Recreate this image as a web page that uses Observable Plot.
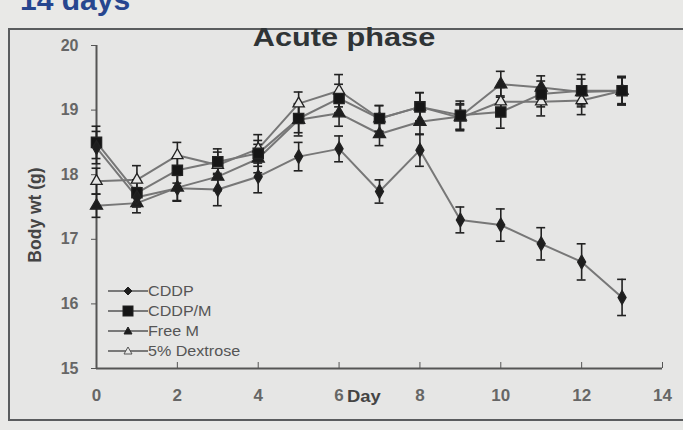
<!DOCTYPE html>
<html>
<head>
<meta charset="utf-8">
<script src="https://cdn.jsdelivr.net/npm/d3@7"></script>
<script src="https://cdn.jsdelivr.net/npm/@observablehq/plot@0.6"></script>
<style>
  html, body { margin: 0; padding: 0; background: #e9e9e7; }
  #wrap { position: relative; width: 683px; height: 430px; overflow: hidden; background: #e9e9e7; font-family: "Liberation Sans", Arial, sans-serif; }
  #frame { position: absolute; left: 8px; top: 28px; width: 700px; height: 389px; border: 2px solid #5a5c5e; border-right: none; background: #e6e6e5; }
  #top { position: absolute; left: 20px; top: -17px; font-size: 30px; font-weight: bold; color: #27468f; }
  #title { position: absolute; left: 344px; top: 22px; transform: translateX(-50%) scaleX(1.18); font-size: 26px; font-weight: bold; color: #2f3436; white-space: nowrap; }
  #chart { position: absolute; left: 0; top: 0; }
  #ylab { position: absolute; left: 35px; top: 215px; transform: translate(-50%, -50%) rotate(-90deg); font-size: 17.5px; font-weight: bold; color: #444; white-space: nowrap; }
  #xlab { position: absolute; left: 347px; top: 388px; font-size: 16px; font-weight: bold; color: #444; transform: scaleX(1.15); transform-origin: left center; }
  #legend { position: absolute; left: 108px; top: 281px; }
  .li { display: flex; align-items: center; height: 20px; font-size: 14px; color: #555; }
  .li svg { margin-right: 0px; }
  .li span { display: inline-block; transform: scaleX(1.15); transform-origin: left center; }
</style>
</head>
<body>
<div id="wrap">
  <div id="top">14 days</div>
  <div id="frame"></div>
  <div id="chart"></div>
  <div id="title">Acute phase</div>
  <div id="ylab">Body wt (g)</div>
  <div id="xlab">Day</div>
  <div id="legend"></div>
</div>
<script>
const days = [0, 1, 2, 3, 4, 5, 6, 7, 8, 9, 10, 11, 12, 13];
const seriesNames = ["CDDP", "CDDP/M", "Free M", "5% Dextrose"];
const cddp      = [18.42, 17.65, 17.79, 17.77, 17.97, 18.28, 18.40, 17.74, 18.38, 17.30, 17.22, 16.93, 16.65, 16.10];
const cddpErr   = [0.25, 0.15, 0.20, 0.25, 0.25, 0.22, 0.20, 0.18, 0.25, 0.20, 0.25, 0.25, 0.28, 0.28];
const cddpm     = [18.50, 17.72, 18.07, 18.20, 18.33, 18.87, 19.18, 18.87, 19.05, 18.92, 18.97, 19.25, 19.30, 19.30];
const cddpmErr  = [0.25, 0.20, 0.20, 0.20, 0.20, 0.22, 0.22, 0.20, 0.22, 0.22, 0.25, 0.20, 0.25, 0.22];
const freeM     = [17.52, 17.56, 17.80, 17.97, 18.25, 18.85, 18.95, 18.63, 18.82, 18.90, 19.40, 19.35, 19.28, 19.30];
const freeMErr  = [0.18, 0.15, 0.20, 0.22, 0.22, 0.25, 0.20, 0.18, 0.20, 0.20, 0.20, 0.18, 0.20, 0.20];
const dextrose  = [17.90, 17.92, 18.30, 18.15, 18.40, 19.10, 19.30, 18.87, 19.05, 18.88, 19.13, 19.13, 19.15, 19.30];
const dextroseErr = [0.20, 0.22, 0.20, 0.20, 0.22, 0.18, 0.25, 0.20, 0.22, 0.20, 0.22, 0.22, 0.22, 0.22];
const xTicks = [0, 2, 4, 6, 8, 10, 12, 14];
const yTicks = [15, 16, 17, 18, 19, 20];

const styles = {
  "CDDP":        {symbol: "diamond", fill: "#1e1e1e", r: 4.2},
  "CDDP/M":      {symbol: "square",  fill: "#161616", r: 5.8},
  "Free M":      {symbol: "triangle", fill: "#1e1e1e", r: 4.5},
  "5% Dextrose": {symbol: "triangle", fill: "#e6e6e5", r: 4.2}
};
const vals = [cddp, cddpm, freeM, dextrose];
const errs = [cddpErr, cddpmErr, freeMErr, dextroseErr];
const rows = [];
seriesNames.forEach((s, i) => days.forEach((d, j) => rows.push({series: s, day: d, wt: vals[i][j], err: errs[i][j]})));
const cap = 0.11;
const lineColor = "#777";
const markColor = "#222";

const marks = [
  Plot.ruleX([0], {stroke: "#555", strokeWidth: 2}),
  Plot.ruleY([15], {stroke: "#555", strokeWidth: 2}),
  Plot.axisY({ticks: yTicks, tickFormat: "d", tickSize: 5, tickPadding: 13, label: null, fontSize: 16, fontWeight: "bold", fill: "#666", stroke: "#555"}),
  Plot.axisX({ticks: xTicks, tickFormat: "d", tickSize: -6, tickPadding: 26, label: null, fontSize: 17, fontWeight: "bold", fill: "#666", stroke: "#555"})
];
seriesNames.slice().reverse().forEach(s => {
  marks.push(Plot.line(rows.filter(r => r.series === s), {x: "day", y: "wt", stroke: lineColor, strokeWidth: 2}));
});
marks.push(
  Plot.ruleX(rows, {x: "day", y1: d => d.wt - d.err, y2: d => d.wt + d.err, stroke: markColor, strokeWidth: 1.6}),
  Plot.ruleY(rows, {y: d => d.wt - d.err, x1: d => d.day - cap, x2: d => d.day + cap, stroke: markColor, strokeWidth: 1.6}),
  Plot.ruleY(rows, {y: d => d.wt + d.err, x1: d => d.day - cap, x2: d => d.day + cap, stroke: markColor, strokeWidth: 1.6})
);
seriesNames.slice().reverse().forEach(s => {
  const st = styles[s];
  marks.push(Plot.dot(rows.filter(r => r.series === s), {x: "day", y: "wt", symbol: st.symbol, r: st.r, fill: st.fill, stroke: markColor, strokeWidth: 1.3}));
});

const chart = Plot.plot({
  width: 683,
  height: 430,
  marginLeft: 96,
  marginRight: 21,
  marginTop: 45,
  marginBottom: 62,
  style: {background: "transparent", fontFamily: "Liberation Sans, Arial, sans-serif"},
  x: {domain: [0, 14]},
  y: {domain: [15, 20]},
  marks
});
document.getElementById("chart").appendChild(chart);

// legend
const symbolPaths = {
  "CDDP": '<path d="M20,3 L24,7 L20,11 L16,7 Z" fill="#1e1e1e" stroke="#222"/>',
  "CDDP/M": '<rect x="15" y="2" width="10" height="10" fill="#161616" stroke="#222"/>',
  "Free M": '<path d="M20,3 L24,10 L16,10 Z" fill="#1e1e1e" stroke="#222"/>',
  "5% Dextrose": '<path d="M20,3 L24,10 L16,10 Z" fill="#e6e6e5" stroke="#555"/>'
};
const lg = document.getElementById("legend");
seriesNames.forEach(s => {
  const div = document.createElement("div");
  div.className = "li";
  div.innerHTML = '<svg width="40" height="14"><line x1="0" y1="7" x2="40" y2="7" stroke="#555" stroke-width="1.6"/>' + symbolPaths[s] + '</svg><span>' + s + '</span>';
  lg.appendChild(div);
});
</script>
</body>
</html>
